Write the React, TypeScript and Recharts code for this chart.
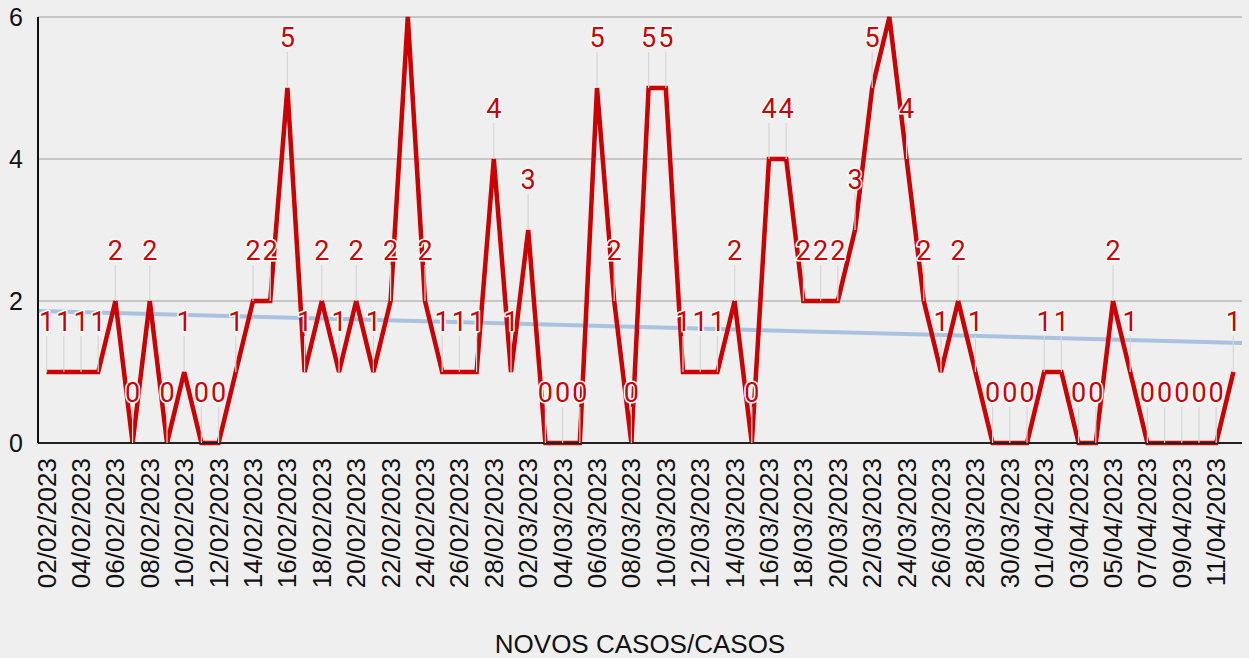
import React from 'react';
import { LineChart, Line, XAxis, YAxis, CartesianGrid, ReferenceLine } from 'recharts';

// daily dates, 02/02/2023 .. 12/04/2023
const dates = [
  '02/02/2023', '03/02/2023', '04/02/2023', '05/02/2023', '06/02/2023', '07/02/2023', '08/02/2023',
  '09/02/2023', '10/02/2023', '11/02/2023', '12/02/2023', '13/02/2023', '14/02/2023', '15/02/2023',
  '16/02/2023', '17/02/2023', '18/02/2023', '19/02/2023', '20/02/2023', '21/02/2023', '22/02/2023',
  '23/02/2023', '24/02/2023', '25/02/2023', '26/02/2023', '27/02/2023', '28/02/2023', '01/03/2023',
  '02/03/2023', '03/03/2023', '04/03/2023', '05/03/2023', '06/03/2023', '07/03/2023', '08/03/2023',
  '09/03/2023', '10/03/2023', '11/03/2023', '12/03/2023', '13/03/2023', '14/03/2023', '15/03/2023',
  '16/03/2023', '17/03/2023', '18/03/2023', '19/03/2023', '20/03/2023', '21/03/2023', '22/03/2023',
  '23/03/2023', '24/03/2023', '25/03/2023', '26/03/2023', '27/03/2023', '28/03/2023', '29/03/2023',
  '30/03/2023', '31/03/2023', '01/04/2023', '02/04/2023', '03/04/2023', '04/04/2023', '05/04/2023',
  '06/04/2023', '07/04/2023', '08/04/2023', '09/04/2023', '10/04/2023', '11/04/2023', '12/04/2023',
];

const casos = [
  1, 1, 1, 1, 2, 0, 2, 0, 1, 0, 0, 1, 2, 2, 5, 1, 2, 1, 2, 1, 2, 6,
  2, 1, 1, 1, 4, 1, 3, 0, 0, 0, 5, 2, 0, 5, 5, 1, 1, 1, 2, 0, 4, 4, 2, 2, 2,
  3, 5, 6, 4, 2, 1, 2, 1, 0, 0, 0, 1, 1, 0, 0, 2, 1, 0, 0, 0, 0, 0, 1,
];

const yTicks = [0, 2, 4, 6];

const trendStart = 1.86;
const trendEnd = 1.41;

const RED = '#cc0000';
const yMax = yTicks[yTicks.length - 1];
const lastIdx = dates.length - 1;

const data = dates.map((d, i) => ({ data: d, casos: casos[i] }));

const LeaderDot = (props: any) => {
  const { cx, cy, value, index } = props;
  if (cx == null || cy == null || value >= yMax) return <g key={index} />;
  return <line key={index} x1={cx} x2={cx} y1={cy - 36} y2={cy} stroke="#d6d6d6" strokeWidth={1.2} />;
};

const ValueLabel = (props: any) => {
  const { x, y, value, index } = props;
  if (value >= yMax) return <g key={index} />;
  return (
    <text
      key={index}
      x={x}
      y={y - 41}
      textAnchor="middle"
      fontFamily="Roboto"
      fontSize={27}
      fill={RED}
      stroke="#ffffff"
      strokeWidth={3}
      paintOrder="stroke"
      strokeLinejoin="round"
    >
      {value}
    </text>
  );
};

const DateTick = (props: any) => {
  const { x, y, payload } = props;
  return (
    <g transform={`translate(${x + 9},${y + 7})`}>
      <text transform="rotate(-90)" textAnchor="end" fontFamily="Liberation Sans" fontSize={26} fill="#111">
        {payload.value}
      </text>
    </g>
  );
};

export default function App() {
  return (
    <div style={{ position: 'absolute', left: 0, top: 0, width: 1249, height: 658, background: '#efefef' }}>
      <LineChart width={1249} height={658} data={data} margin={{ top: 17, right: 7, left: 0, bottom: 0 }}>
        <CartesianGrid vertical={false} stroke="#b9b9b9" strokeWidth={1.5} />
        <XAxis
          dataKey="data"
          interval={1}
          height={215}
          padding={{ left: 8.6, right: 8.6 }}
          tickLine={false}
          axisLine={{ stroke: '#222', strokeWidth: 2 }}
          tick={<DateTick />}
          label={{ value: 'NOVOS CASOS/CASOS', position: 'insideBottom', offset: 5, fontFamily: 'Liberation Sans', fontSize: 26, fill: '#111' }}
        />
        <XAxis xAxisId="trend" type="number" domain={[0, lastIdx]} allowDataOverflow hide />
        <YAxis
          width={38}
          domain={[0, yMax]}
          ticks={yTicks}
          tickLine={false}
          tickMargin={9}
          axisLine={{ stroke: '#111', strokeWidth: 2 }}
          tick={{ fontFamily: 'Liberation Sans', fontSize: 25, fill: '#111' }}
        />
        <ReferenceLine
          xAxisId="trend"
          segment={[{ x: 0, y: trendStart }, { x: lastIdx, y: trendEnd }]}
          stroke="#a9c2e0"
          strokeWidth={4}
        />
        <Line
          dataKey="casos"
          stroke="none"
          dot={<LeaderDot />}
          activeDot={false}
          isAnimationActive={false}
        />
        <Line
          type="linear"
          dataKey="casos"
          stroke={RED}
          strokeWidth={4.5}
          dot={false}
          activeDot={false}
          label={<ValueLabel />}
          isAnimationActive={false}
        />
      </LineChart>
    </div>
  );
}
